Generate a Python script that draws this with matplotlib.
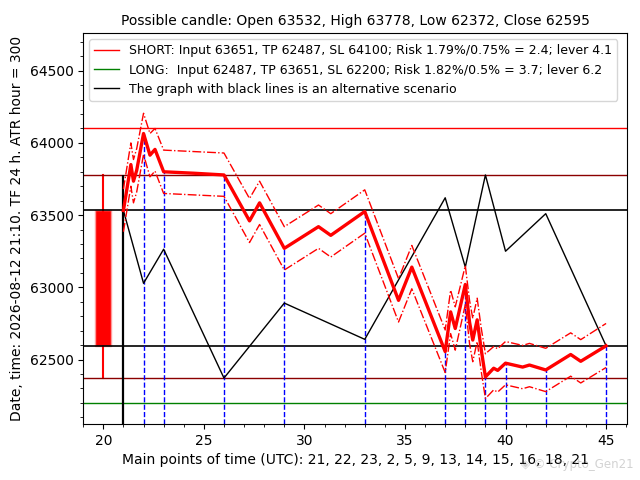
import matplotlib
matplotlib.use('Agg')
import matplotlib.pyplot as plt
from matplotlib.patches import Rectangle

# candle values
o, h, l, c = 63532, 63778, 62372, 62595
sl_short = 64100
sl_long = 62200

# main forecast path (red)
main_x = [21, 21.37, 21.5, 21.66, 22, 22.32, 22.57, 23, 24.5, 26, 27.27, 27.77, 29, 30.7, 31.31, 33,
          34.68, 35.34, 37, 37.27, 37.5, 38, 38.21, 38.37, 38.59, 38.79, 39, 39.41, 39.61, 40,
          40.85, 41.19, 42, 43.24, 43.74, 45]
main_y = [63532, 63850, 63735, 63810, 64065, 63915, 63955, 63800, 63790, 63778, 63460, 63585, 63270, 63420, 63360, 63525,
          62910, 63140, 62555, 62830, 62715, 63020, 62760, 62635, 62775, 62570, 62380, 62440, 62425, 62475,
          62448, 62462, 62428, 62535, 62488, 62595]
upper_y = [63680, 64000, 63885, 63960, 64205, 64065, 64100, 63950, 63940, 63930, 63615, 63735, 63420, 63570, 63510, 63675,
           63060, 63290, 62705, 62980, 62865, 63150, 62910, 62785, 62925, 62720, 62540, 62590, 62575, 62625,
           62598, 62612, 62578, 62685, 62638, 62750]
lower_y = [63385, 63700, 63585, 63660, 63920, 63765, 63805, 63650, 63640, 63630, 63310, 63435, 63120, 63270, 63210, 63375,
           62760, 62990, 62410, 62680, 62565, 62880, 62610, 62485, 62625, 62420, 62230, 62290, 62275, 62325,
           62298, 62312, 62278, 62385, 62338, 62445]

# alternative scenario (black)
alt_x = [21, 22, 23, 26, 29, 33, 37, 38, 39, 40, 42, 45]
alt_y = [63532, 63028, 63264, 62372, 62891, 62640, 63620, 63140, 63778, 63250, 63510, 62595]

# main time points (blue dashed)
key_x = [22, 23, 26, 29, 33, 37, 38, 39, 40, 42, 45]

y_bottom, y_top = 62055, 64760

fig, ax = plt.subplots(figsize=(6.4, 4.8), dpi=100)
fig.subplots_adjust(left=0.13, right=0.98, top=0.931, bottom=0.117)

# candle
ax.plot([20, 20], [l, h], color='red', linewidth=1.5)
ax.add_patch(Rectangle((19.6, c), 0.8, o - c, facecolor='red', edgecolor=(1, 0.6, 0.6), linewidth=1))

# horizontal levels
ax.axhline(sl_short, color='red', linewidth=1)
ax.axhline(h, color='darkred', linewidth=1)
ax.axhline(o, color='black', linewidth=1.2)
ax.axhline(c, color='black', linewidth=1.2)
ax.axhline(l, color='darkred', linewidth=1)
ax.axhline(sl_long, color='green', linewidth=1)

# start line
ax.vlines(21, y_bottom, h, color='black', linewidth=1.6)

# blue markers down to the red path
for kx in key_x:
    ky = main_y[main_x.index(kx)]
    ax.vlines(kx, y_bottom, ky, color='blue', linestyle='--', linewidth=1)

ax.plot(alt_x, alt_y, color='black', linewidth=1)
ax.plot(main_x, upper_y, color='red', linestyle='-.', linewidth=1)
ax.plot(main_x, lower_y, color='red', linestyle='-.', linewidth=1)
ax.plot(main_x, main_y, color='red', linewidth=2.4)

# legend handles
ax.plot([], [], color='red', linewidth=1, label='SHORT: Input 63651, TP 62487, SL 64100; Risk 1.79%/0.75% = 2.4; lever 4.1')
ax.plot([], [], color='green', linewidth=1, label='LONG:  Input 62487, TP 63651, SL 62200; Risk 1.82%/0.5% = 3.7; lever 6.2')
ax.plot([], [], color='black', linewidth=1, label='The graph with black lines is an alternative scenario')
ax.legend(loc='upper left', fontsize=9)

ax.set_xlim(19, 46.05)
ax.set_ylim(y_bottom, y_top)
ax.minorticks_on()
ax.set_title('Possible candle: Open 63532, High 63778, Low 62372, Close 62595', fontsize=10)
ax.set_xlabel('Main points of time (UTC): 21, 22, 23, 2, 5, 9, 13, 14, 15, 16, 18, 21', fontsize=10)
ax.set_ylabel('Date, time: 2026-08-12 21:10. TF 24 h. ATR hour = 300', fontsize=10)

fig.text(0.99, 0.025, '◈ © Crypto_Gen21', color='gray', alpha=0.35, fontsize=8.5, ha='right')

plt.savefig('out.png')
